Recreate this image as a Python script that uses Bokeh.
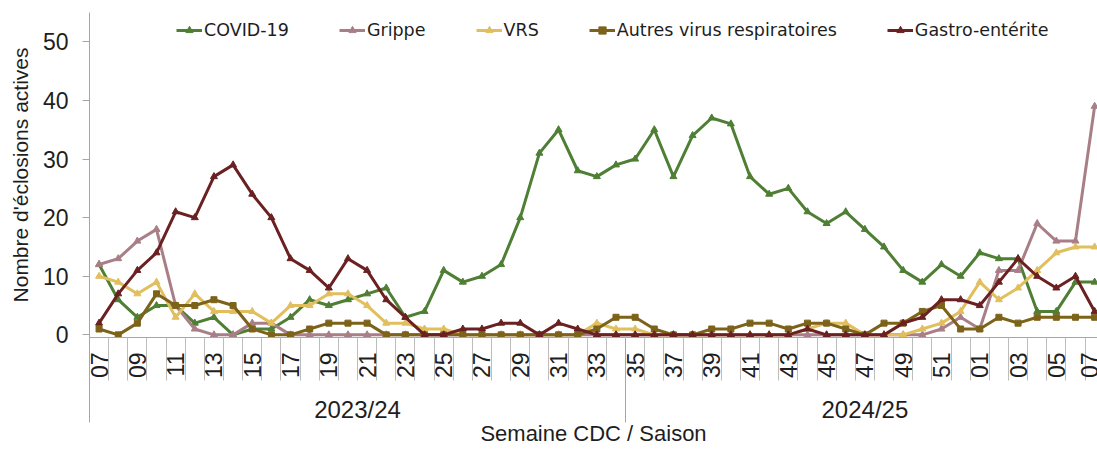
from math import pi
from bokeh.plotting import figure
from bokeh.models import Range1d, FixedTicker, LinearAxis, Legend, LegendItem
from bokeh.embed import file_html
from bokeh.resources import INLINE

# ---------------- data ----------------
weeks = ["07", "08", "09", "10", "11", "12", "13", "14", "15", "16",
         "17", "18", "19", "20", "21", "22", "23", "24", "25", "26",
         "27", "28", "29", "30", "31", "32", "33", "34",
         "35", "36", "37", "38", "39", "40", "41", "42", "43", "44",
         "45", "46", "47", "48", "49", "50", "51", "52",
         "01", "02", "03", "04", "05", "06", "07"]
seasons = ["2023/24", "2024/25"]
season_lengths = [28, 25]

covid = [12, 6, 3, 5, 5, 2, 3, 0, 1, 1,
         3, 6, 5, 6, 7, 8, 3, 4, 11, 9,
         10, 12, 20, 31, 35, 28, 27, 29, 30, 35,
         27, 34, 37, 36, 27, 24, 25, 21, 19, 21,
         18, 15, 11, 9, 12, 10, 14, 13, 13, 4,
         4, 9, 9]
grippe = [12, 13, 16, 18, 5, 1, 0, 0, 2, 2,
          0, 0, 0, 0, 0, 0, 0, 0, 0, 0,
          0, 0, 0, 0, 0, 0, 0, 0, 0, 0,
          0, 0, 0, 0, 0, 0, 0, 0, 0, 0,
          0, 0, 0, 0, 1, 3, 1, 11, 11, 19,
          16, 16, 39]
vrs = [10, 9, 7, 9, 3, 7, 4, 4, 4, 2,
       5, 5, 7, 7, 5, 2, 2, 1, 1, 0,
       0, 0, 0, 0, 0, 0, 2, 1, 1, 0,
       0, 0, 0, 0, 0, 0, 0, 1, 2, 2,
       0, 0, 0, 1, 2, 4, 9, 6, 8, 11,
       14, 15, 15]
autres = [1, 0, 2, 7, 5, 5, 6, 5, 1, 0,
          0, 1, 2, 2, 2, 0, 0, 0, 0, 0,
          0, 0, 0, 0, 0, 0, 1, 3, 3, 1,
          0, 0, 1, 1, 2, 2, 1, 2, 2, 1,
          0, 2, 2, 4, 5, 1, 1, 3, 2, 3,
          3, 3, 3]
gastro = [2, 7, 11, 14, 21, 20, 27, 29, 24, 20,
          13, 11, 8, 13, 11, 6, 3, 0, 0, 1,
          1, 2, 2, 0, 2, 1, 0, 0, 0, 0,
          0, 0, 0, 0, 0, 0, 0, 1, 0, 0,
          0, 0, 2, 3, 6, 6, 5, 9, 13, 10,
          8, 10, 4]
y_ticks = [0, 10, 20, 30, 40, 50]

series = [
    ("COVID-19", covid, "#4E7F34", "triangle"),
    ("Grippe", grippe, "#A97F87", "triangle"),
    ("VRS", vrs, "#E2BF5E", "triangle"),
    ("Autres virus respiratoires", autres, "#7D6219", "square"),
    ("Gastro-entérite", gastro, "#6B2121", "triangle"),
]

FONT = "Liberation Sans"
LFONT = "DejaVu Sans"
TXT = "#1e1e1e"
AXC = "#a6a6a6"

x = list(range(len(weeks)))

p = figure(width=1097, height=450, output_backend="svg", toolbar_location=None,
           x_range=Range1d(-0.5, 52.15), y_range=Range1d(-0.45, 55),
           x_axis_type=None,
           min_border_left=89, min_border_right=0, min_border_top=12,
           min_border_bottom=113)
p.grid.visible = False
p.outline_line_color = None

# y axis
ya = p.yaxis[0]
ya.ticker = FixedTicker(ticks=y_ticks)
ya.axis_line_color = AXC
ya.major_tick_line_color = AXC
ya.major_tick_out = 7
ya.major_tick_in = 0
ya.minor_tick_out = 0
ya.minor_tick_in = 0
ya.major_label_text_font = FONT
ya.major_label_text_font_size = "23px"
ya.major_label_text_color = TXT
ya.major_label_standoff = 14
ya.axis_label = "Nombre d'éclosions actives"
ya.axis_label_text_font = FONT
ya.axis_label_text_font_size = "21px"
ya.axis_label_text_font_style = "normal"
ya.axis_label_text_color = TXT
ya.axis_label_standoff = 8

# x axis 1 : weeks
label_pos = [i for i in x if i % 2 == 0]
boundaries = [i + 0.5 for i in range(-1, len(weeks))]
ax1 = LinearAxis(ticker=FixedTicker(ticks=label_pos, minor_ticks=boundaries),
                 major_label_overrides={i: weeks[i] for i in label_pos})
ax1.axis_line_color = AXC
ax1.major_tick_out = 0
ax1.major_tick_in = 0
ax1.minor_tick_out = 43
ax1.minor_tick_in = 0
ax1.minor_tick_line_color = "#bdbdbd"
ax1.major_label_orientation = pi / 2
ax1.major_label_standoff = -28
ax1.major_label_text_font = FONT
ax1.major_label_text_font_size = "23px"
ax1.major_label_text_color = TXT
p.add_layout(ax1, "below")

# x axis 2 : seasons
starts = []
s = -0.5
for n in season_lengths:
    starts.append(s)
    s += n
centers = [st + n / 2 for st, n in zip(starts, season_lengths)]
ax2 = LinearAxis(ticker=FixedTicker(ticks=centers, minor_ticks=starts),
                 major_label_overrides={c: lab for c, lab in zip(centers, seasons)})
ax2.axis_line_color = None
ax2.major_tick_out = 0
ax2.major_tick_in = 0
ax2.minor_tick_in = 43
ax2.minor_tick_out = 41
ax2.minor_tick_line_color = AXC
ax2.major_label_standoff = -27
ax2.major_label_text_font = FONT
ax2.major_label_text_font_size = "24px"
ax2.major_label_text_color = TXT
ax2.axis_label = "Semaine CDC / Saison"
ax2.axis_label_text_font = FONT
ax2.axis_label_text_font_size = "22px"
ax2.axis_label_text_font_style = "normal"
ax2.axis_label_text_color = TXT
ax2.axis_label_standoff = -5
p.add_layout(ax2, "below")

items = []
for name, vals, col, mk in series:
    ln = p.line(x, vals, line_color=col, line_width=3)
    sc = p.scatter(x, vals, marker=mk, size=7 if mk == "triangle" else 6,
                   fill_color=col, line_color=col)
    items.append(LegendItem(label=name, renderers=[ln, sc]))

legend = Legend(items=items, orientation="horizontal", location=(87, 297),
                border_line_color=None, background_fill_alpha=0,
                label_text_font=LFONT, label_text_font_size="17.5px",
                label_text_color=TXT, glyph_width=26, glyph_height=18,
                label_standoff=2, spacing=50, padding=0, margin=0)
p.add_layout(legend)

open("out.html", "w").write(file_html(p, INLINE))
